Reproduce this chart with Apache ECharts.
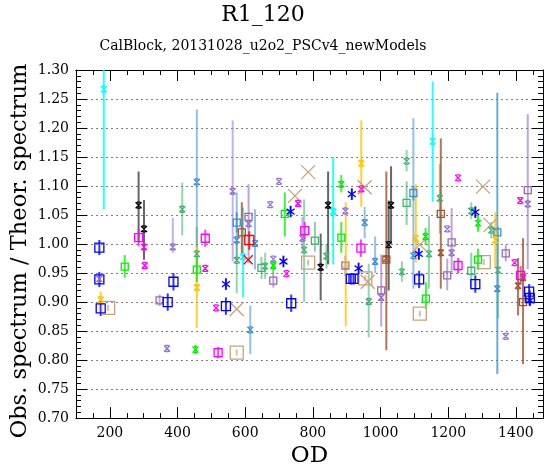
<!DOCTYPE html>
<html>
<head>
<meta charset="utf-8">
<script src="https://cdn.jsdelivr.net/npm/echarts@6/dist/echarts.min.js"></script>
<style>
html,body{margin:0;padding:0;background:#fff;}
#chart{width:550px;height:473px;}
</style>
</head>
<body>
<div id="chart"></div>
<script>
// ---- tick labels ----
const xMajorTicks = [200, 400, 600, 800, 1000, 1200, 1400];

// ---- data: [OD, ratio, errLow, errHigh] ----
const cyanX = [[182,1.267,1.060,1.470],[594,0.978,0.908,1.063],[860,1.056,0.965,1.150],[1154,1.177,1.073,1.280]];
const blueSquare = [[169,0.994,0.981,1.007],[169,0.939,0.926,0.952],[173,0.889,0.876,0.902],[388,0.935,0.920,0.950],[371,0.900,0.885,0.915],[543,0.893,0.878,0.908],[736,0.898,0.883,0.913],[912,0.940,0.930,0.950],[920,0.940,0.930,0.950],[1114,0.939,0.924,0.954],[1280,0.931,0.916,0.946],[1439,0.918,0.905,0.931],[1441,0.907,0.895,0.920]];
const blueStar = [[543,0.931,0.921,0.941],[713,0.970,0.960,0.980],[734,1.056,1.046,1.066],[915,1.086,1.076,1.096],[935,0.958,0.948,0.968],[1113,0.983,0.973,0.993],[1280,1.055,1.045,1.065],[1441,0.903,0.893,0.913]];
const magentaSquare = [[285,1.011,0.996,1.026],[482,1.010,0.995,1.025],[520,0.813,0.803,0.823],[776,1.023,1.008,1.038],[942,0.993,0.978,1.008],[1229,0.963,0.950,0.976],[1414,0.946,0.930,0.962]];
const magentaX = [[301,0.995],[303,0.963],[482,0.958],[514,0.890],[722,0.949],[756,1.070],[943,1.095],[1229,1.114],[1396,0.968],[1413,1.075]];
const blackX = [[285,1.067,1.005,1.125],[301,1.026,0.973,1.076],[823,0.960,0.903,1.018],[845,1.067,0.965,1.125],[1031,1.067,1.000,1.134],[1024,0.999,0.920,1.075]];
const limeSquare = [[244,0.961,0.942,0.981],[457,0.956,0.935,0.980],[717,1.052,1.013,1.089],[884,1.011,0.985,1.038],[1134,0.906,0.888,0.934],[1288,0.973,0.955,0.992]];
const limeX = [[453,0.818,0.810,0.826],[683,0.963,0.950,0.975],[884,1.103,1.089,1.119],[1133,1.013,0.998,1.028],[1288,1.036,1.021,1.051]];
const seagreenX = [[414,1.060,1.015,1.106],[457,0.983,0.950,1.030],[575,0.972,0.915,1.008],[659,0.962,0.940,0.985],[774,0.990,0.900,1.077],[840,0.979,0.958,1.000],[965,0.901,0.839,0.966],[1063,0.952,0.935,0.970],[1077,1.143,1.125,1.162],[1143,0.983,0.923,1.048],[1175,1.079,1.018,1.138],[1268,1.057,1.043,1.072],[1327,1.024,1.010,1.038],[1347,0.955,0.872,1.030]];
const seagreenSquare = [[648,0.959,0.940,0.978],[806,1.006,0.987,1.038],[1077,1.071,1.033,1.108],[1268,0.954,0.925,0.985]];
const purpleX = [[169,0.940],[369,0.820],[386,0.995,0.985,1.045],[563,1.091,0.970,1.213],[610,1.035],[674,1.068],[683,0.974],[700,1.108],[769,1.010,0.990,1.047],[896,1.057],[1197,1.026],[1370,0.841],[1002,0.908],[1210,0.985],[1435,1.069]];
const purpleSquare = [[347,0.903,0.893,0.913],[610,1.047,0.968,1.103],[683,0.937,0.925,0.950],[896,0.963,0.945,0.980],[1002,0.920,0.858,0.982],[1197,0.946,0.920,0.975],[1210,1.003,0.951,1.062],[1370,0.984,0.970,0.998],[1435,1.093,0.957,1.224]];
const tanSquare = [[195,0.890,0.885,0.895],[575,0.813,0.808,0.818],[786,0.968,0.963,0.973],[955,0.941,0.936,0.946],[1116,0.880,0.875,0.885],[1305,0.969,0.964,0.974]];
const tanX = [[575,0.888],[747,1.083],[786,1.124],[953,1.098],[962,0.935],[1116,0.999],[1303,1.099],[1325,1.033]];
const redSquare = [[612,1.007,0.990,1.022]];
const redX = [[609,0.973]];
const brownSquare = [[590,1.020,0.984,1.072],[1017,0.973,0.817,1.125],[1178,1.052,0.923,1.182],[1421,0.900,0.793,1.010]];
const brownX = [[1017,0.975],[1178,0.985],[1421,0.942],[1406,0.928,0.877,0.976]];
const goldX = [[173,0.904,0.893,0.918],[457,0.925,0.855,0.996],[897,0.965,0.858,1.072],[943,1.139,1.064,1.213],[1104,1.010,0.968,1.103],[1339,1.007,0.959,1.055]];
const steelX = [[457,1.107,0.982,1.232],[575,1.007,0.974,1.089],[615,0.852,0.810,0.894],[629,1.001,0.956,1.060],[953,1.037,1.010,1.064],[984,0.970,0.950,1.013],[1097,0.980,0.923,1.217],[1345,0.923]];
const steelSquare = [[575,1.037,1.020,1.055],[1097,1.088,1.075,1.100],[1345,1.020,0.776,1.261]];

// ---- marker shapes ----
const SYM = {
  x: 'path://M0,0L10,10M10,0L0,10M2,0L8,0M2,10L8,10',
  bigX: 'path://M0,0L10,10M10,0L0,10',
  star: 'path://M5,0L5,10M0.67,2.5L9.33,7.5M9.33,2.5L0.67,7.5',
  sq: 'rect'
};

const groups = [
  {d: tanSquare, c: '#C8A27A', m: 'sq', s: 13, op: 0.7},
  {d: tanX, c: '#C8A27A', m: 'bigX', s: 14, op: 0.7},
  {d: cyanX, c: '#00FFFF', m: 'x', s: 6, op: 0.85},
  {d: steelX, c: '#3A8FD3', m: 'x', s: 6, op: 0.55},
  {d: steelSquare, c: '#3A8FD3', m: 'sq', s: 7, op: 0.75},
  {d: seagreenX, c: '#3CB371', m: 'x', s: 6, op: 0.55},
  {d: seagreenSquare, c: '#3CB371', m: 'sq', s: 7, op: 0.6},
  {d: purpleX, c: '#9370DB', m: 'x', s: 6, op: 0.55},
  {d: purpleSquare, c: '#9467BD', m: 'sq', s: 7, op: 0.6},
  {d: brownSquare, c: '#A0522D', m: 'sq', s: 7, op: 0.8},
  {d: brownX, c: '#A0522D', m: 'x', s: 6, op: 0.8},
  {d: goldX, c: '#FFC400', m: 'x', s: 6, op: 0.8},
  {d: blackX, c: '#000000', m: 'x', s: 6, op: 0.6},
  {d: limeSquare, c: '#00EE00', m: 'sq', s: 7, op: 0.75},
  {d: limeX, c: '#00EE00', m: 'x', s: 6, op: 0.75},
  {d: magentaSquare, c: '#FF00FF', m: 'sq', s: 8, op: 0.75},
  {d: magentaX, c: '#FF00FF', m: 'x', s: 6, op: 0.75},
  {d: redSquare, c: '#FF0000', m: 'sq', s: 9, op: 0.8},
  {d: redX, c: '#FF0000', m: 'bigX', s: 9, op: 0.8},
  {d: blueSquare, c: '#0000FF', m: 'sq', s: 9, op: 0.8},
  {d: blueStar, c: '#0000FF', m: 'star', s: [8, 11], op: 0.8}
];

const series = [];
groups.forEach(function (g) {
  const withErr = g.d.filter(function (p) { return p.length >= 4; });
  if (withErr.length) {
    series.push({
      type: 'custom', xAxisIndex: 0, yAxisIndex: 0, clip: true, silent: true,
      encode: {x: 0, y: 1},
      data: withErr,
      renderItem: function (params, api) {
        const a = api.coord([api.value(0), api.value(2)]);
        const b = api.coord([api.value(0), api.value(3)]);
        return {type: 'line', shape: {x1: a[0], y1: a[1], x2: b[0], y2: b[1]},
          style: {stroke: g.c, lineWidth: 2, opacity: g.op}};
      }
    });
  }
  series.push({
    type: 'scatter', xAxisIndex: 0, yAxisIndex: 0, silent: true,
    data: g.d.map(function (p) { return [p[0], p[1]]; }),
    symbol: SYM[g.m], symbolSize: g.s,
    itemStyle: {color: 'rgba(0,0,0,0)', borderColor: g.c, borderWidth: 1.3, opacity: 1}
  });
});

const FONT = 'DejaVu Serif';
const XMIN = 100, XMAX = 1480;
function xAx(pos, major, withLabels) {
  const o = {
    type: 'value', position: pos, min: XMIN, max: XMAX,
    axisLine: {show: true, onZero: false, lineStyle: {color: '#000', width: 1}},
    splitLine: {show: false},
    axisLabel: {show: false}
  };
  if (major) {
    o.axisTick = {show: true, inside: true, length: 11, lineStyle: {color: '#000'}, customValues: xMajorTicks};
    if (withLabels) {
      o.axisLabel = {show: true, customValues: xMajorTicks, fontFamily: FONT, fontSize: 14, color: '#000', margin: 8,
        formatter: function (v) { return String(v); }};
      o.name = 'OD'; o.nameLocation = 'middle'; o.nameGap = 26;
      o.nameTextStyle = {fontFamily: FONT, fontSize: 23, color: '#000'};
    }
  } else {
    o.interval = 50;
    o.axisTick = {show: true, inside: true, length: 5, lineStyle: {color: '#000'}};
  }
  return o;
}
function yAx(pos, labels) {
  return {
    type: 'value', position: pos, min: 0.70, max: 1.30, interval: 0.05,
    axisLine: {show: true, onZero: false, lineStyle: {color: '#000', width: 1}},
    axisTick: {show: true, inside: true, length: 11, lineStyle: {color: '#000'}},
    minorTick: {show: true, splitNumber: 5, length: 5, lineStyle: {color: '#000'}},
    splitLine: {show: labels, lineStyle: {color: '#808080', type: [2, 3], width: 1}},
    axisLabel: {show: labels, fontFamily: FONT, fontSize: 14, color: '#000', margin: 7,
      formatter: function (v) { return v.toFixed(2); }}
  };
}

const chart = echarts.init(document.getElementById('chart'), null, {renderer: 'canvas'});
chart.setOption({
  animation: false,
  backgroundColor: '#fff',
  grid: {left: 76, top: 70, right: 7, bottom: 48, containLabel: false},
  xAxis: [xAx('bottom', false), xAx('bottom', true, true), xAx('top', false), xAx('top', true, false)],
  yAxis: [yAx('left', true), yAx('right', false)],
  graphic: [
    {type: 'text', style: {text: 'R1_120', x: 263, y: 4, textAlign: 'center', font: '22px "DejaVu Serif"', fill: '#000'}},
    {type: 'text', style: {text: 'CalBlock, 20131028_u2o2_PSCv4_newModels', x: 263, y: 39, textAlign: 'center', font: '14px "DejaVu Serif"', fill: '#000'}},
    {type: 'text', x: 20, y: 251, rotation: Math.PI / 2,
      style: {text: 'Obs. spectrum / Theor. spectrum', x: 0, y: 0, textAlign: 'center', textVerticalAlign: 'middle', font: '22.5px "DejaVu Serif"', fill: '#000'}}
  ],
  series: series
});
</script>
</body>
</html>
